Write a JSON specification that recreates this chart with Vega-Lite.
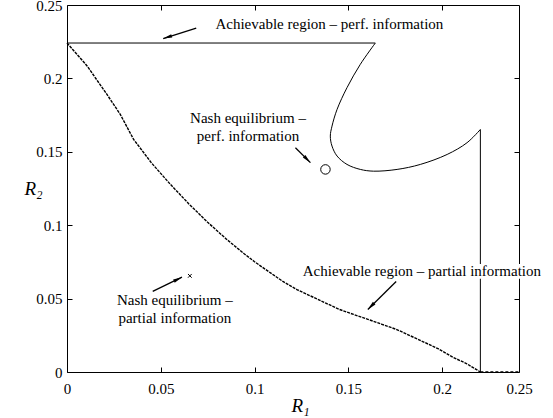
{
  "$schema": "https://vega.github.io/schema/vega-lite/v6.json",
  "width": 452,
  "height": 367,
  "autosize": {"type": "none"},
  "padding": {"left": 67, "top": 5, "right": 34, "bottom": 46},
  "background": "white",
  "config": {
    "view": {"stroke": null},
    "axis": {
      "grid": false,
      "domainColor": "black",
      "domainWidth": 1,
      "tickColor": "black",
      "tickSize": -5,
      "labelColor": "black",
      "labelFont": "Liberation Serif",
      "labelFontSize": 15,
      "labelFlush": false,
      "labelOverlap": false,
      "titleColor": "black",
      "titleFont": "Liberation Serif",
      "titleFontStyle": "italic",
      "titleFontWeight": "normal",
      "titleFontSize": 19
    }
  },
  "resolve": {"axis": {"x": "independent", "y": "independent"}},
  "datasets": {
    "perf": [
      {"part": "top", "ord": 1, "r1": 0, "r2": 0.2241},
      {"part": "top", "ord": 2, "r1": 0.1644, "r2": 0.2241},
      {"part": "curve", "ord": 1, "r1": 0.1644, "r2": 0.2241},
      {"part": "curve", "ord": 2, "r1": 0.1564, "r2": 0.2096},
      {"part": "curve", "ord": 3, "r1": 0.1493, "r2": 0.1937},
      {"part": "curve", "ord": 4, "r1": 0.1440, "r2": 0.1789},
      {"part": "curve", "ord": 5, "r1": 0.1413, "r2": 0.1675},
      {"part": "curve", "ord": 6, "r1": 0.1404, "r2": 0.1607},
      {"part": "curve", "ord": 7, "r1": 0.1413, "r2": 0.1539},
      {"part": "curve", "ord": 8, "r1": 0.1440, "r2": 0.1471},
      {"part": "curve", "ord": 9, "r1": 0.1493, "r2": 0.1414},
      {"part": "curve", "ord": 10, "r1": 0.1564, "r2": 0.1380},
      {"part": "curve", "ord": 11, "r1": 0.1635, "r2": 0.1368},
      {"part": "curve", "ord": 12, "r1": 0.1760, "r2": 0.1380},
      {"part": "curve", "ord": 13, "r1": 0.1884, "r2": 0.1414},
      {"part": "curve", "ord": 14, "r1": 0.2027, "r2": 0.1482},
      {"part": "curve", "ord": 15, "r1": 0.2133, "r2": 0.1562},
      {"part": "curve", "ord": 16, "r1": 0.2204, "r2": 0.1652},
      {"part": "side", "ord": 1, "r1": 0.2204, "r2": 0.1652},
      {"part": "side", "ord": 2, "r1": 0.2204, "r2": 0}
    ],
    "partial": [
      {"ord": 1, "r1": 0, "r2": 0.2241},
      {"ord": 2, "r1": 0.0107, "r2": 0.2085},
      {"ord": 3, "r1": 0.0213, "r2": 0.1891},
      {"ord": 4, "r1": 0.0284, "r2": 0.1755},
      {"ord": 5, "r1": 0.0355, "r2": 0.1585},
      {"ord": 6, "r1": 0.045, "r2": 0.1425},
      {"ord": 7, "r1": 0.055, "r2": 0.128},
      {"ord": 8, "r1": 0.065, "r2": 0.1145},
      {"ord": 9, "r1": 0.075, "r2": 0.102},
      {"ord": 10, "r1": 0.085, "r2": 0.0905},
      {"ord": 11, "r1": 0.0943, "r2": 0.0807},
      {"ord": 12, "r1": 0.1, "r2": 0.0751},
      {"ord": 13, "r1": 0.1075, "r2": 0.0684},
      {"ord": 14, "r1": 0.1151, "r2": 0.0617},
      {"ord": 15, "r1": 0.1226, "r2": 0.0561},
      {"ord": 16, "r1": 0.1302, "r2": 0.0516},
      {"ord": 17, "r1": 0.1377, "r2": 0.0471},
      {"ord": 18, "r1": 0.1453, "r2": 0.0426},
      {"ord": 19, "r1": 0.1528, "r2": 0.0392},
      {"ord": 20, "r1": 0.1604, "r2": 0.0359},
      {"ord": 21, "r1": 0.1679, "r2": 0.0325},
      {"ord": 22, "r1": 0.1755, "r2": 0.0291},
      {"ord": 23, "r1": 0.1830, "r2": 0.0247},
      {"ord": 24, "r1": 0.1906, "r2": 0.0202},
      {"ord": 25, "r1": 0.1981, "r2": 0.0157},
      {"ord": 26, "r1": 0.2057, "r2": 0.0101},
      {"ord": 27, "r1": 0.2132, "r2": 0.0056},
      {"ord": 28, "r1": 0.2204, "r2": 0}
    ],
    "base": [
      {"ord": 1, "r1": 0.2204, "r2": 0},
      {"ord": 2, "r1": 0.241, "r2": 0}
    ],
    "labels": [
      {"label": "Achievable region – perf. information", "r1": 0.1399, "r2": 0.2369},
      {"label": "Nash equilibrium –", "r1": 0.0965, "r2": 0.1733},
      {"label": "perf. information", "r1": 0.0965, "r2": 0.1607},
      {"label": "Achievable region – partial information", "r1": 0.1892, "r2": 0.0686},
      {"label": "Nash equilibrium –", "r1": 0.0575, "r2": 0.0493},
      {"label": "partial information", "r1": 0.0575, "r2": 0.037}
    ],
    "boxes": [
      {"x1": 0.1245, "x2": 0.2540, "y1": 0.0636, "y2": 0.0736}
    ],
    "nash_perf": [{"r1": 0.1378, "r2": 0.138}],
    "nash_partial": [{"r1": 0.0655, "r2": 0.0655}],
    "arrows": [
      {"id": "a1", "x1": 0.0689, "y1": 0.2342, "x2": 0.0513, "y2": 0.2271},
      {"id": "a2", "x1": 0.1218, "y1": 0.1528, "x2": 0.1298, "y2": 0.1426},
      {"id": "a3", "x1": 0.1755, "y1": 0.0617, "x2": 0.1604, "y2": 0.0426},
      {"id": "a4", "x1": 0.0457, "y1": 0.0549, "x2": 0.0613, "y2": 0.0646}
    ]
  },
  "layer": [
    {
      "data": {"name": "perf"},
      "mark": {"type": "line", "color": "black", "strokeWidth": 1, "interpolate": "catmull-rom"},
      "encoding": {
        "x": {
          "field": "r1", "type": "quantitative",
          "scale": {"domain": [0, 0.241], "nice": false, "zero": false},
          "axis": {
            "orient": "bottom",
            "values": [0, 0.05, 0.1, 0.15, 0.2, 0.241],
            "labelExpr": "datum.value > 0.23 ? '0.25' : format(datum.value, '.2~f')",
            "labelPadding": 14,
            "title": "R₁",
            "titleX": 233,
            "titleY": 39,
            "titleBaseline": "alphabetic",
            "titleAlign": "center"
          }
        },
        "y": {
          "field": "r2", "type": "quantitative",
          "scale": {"domain": [0, 0.25], "nice": false, "zero": false},
          "axis": {
            "orient": "left",
            "values": [0, 0.05, 0.1, 0.15, 0.2, 0.25],
            "format": ".2~f",
            "labelPadding": 10,
            "title": "R₂",
            "titleAngle": 0,
            "titleX": -34,
            "titleY": 183,
            "titleAlign": "center",
            "titleBaseline": "middle"
          }
        },
        "detail": {"field": "part"},
        "order": {"field": "ord", "type": "quantitative"}
      }
    },
    {
      "data": {"name": "partial"},
      "mark": {"type": "line", "color": "black", "strokeWidth": 1.4, "strokeDash": [3, 1]},
      "encoding": {
        "x": {"field": "r1", "type": "quantitative", "axis": null},
        "y": {"field": "r2", "type": "quantitative", "axis": null},
        "order": {"field": "ord", "type": "quantitative"}
      }
    },
    {
      "data": {"name": "base"},
      "mark": {"type": "line", "color": "black", "strokeWidth": 1.5, "strokeDash": [3, 2]},
      "encoding": {
        "x": {"field": "r1", "type": "quantitative", "axis": null},
        "y": {"field": "r2", "type": "quantitative", "axis": null},
        "order": {"field": "ord", "type": "quantitative"}
      }
    },
    {
      "data": {"name": "boxes"},
      "mark": {"type": "rect", "color": "white"},
      "encoding": {
        "x": {"field": "x1", "type": "quantitative", "axis": null},
        "x2": {"field": "x2"},
        "y": {"field": "y1", "type": "quantitative", "axis": null},
        "y2": {"field": "y2"}
      }
    },
    {
      "data": {"name": "labels"},
      "mark": {"type": "text", "font": "Liberation Serif", "fontSize": 15, "color": "black", "align": "center", "baseline": "middle"},
      "encoding": {
        "x": {"field": "r1", "type": "quantitative", "axis": null},
        "y": {"field": "r2", "type": "quantitative", "axis": null},
        "text": {"field": "label"}
      }
    },
    {
      "data": {"name": "nash_perf"},
      "mark": {"type": "point", "shape": "circle", "filled": false, "size": 90, "color": "black", "strokeWidth": 1, "opacity": 1},
      "encoding": {
        "x": {
          "field": "r1", "type": "quantitative",
          "axis": {"orient": "top", "values": [0.05, 0.1, 0.15, 0.2], "labels": false, "title": null}
        },
        "y": {
          "field": "r2", "type": "quantitative",
          "axis": {"orient": "right", "values": [0.05, 0.1, 0.15, 0.2], "labels": false, "title": null}
        }
      }
    },
    {
      "data": {"name": "nash_partial"},
      "mark": {"type": "point", "shape": "M-1,-1L1,1M1,-1L-1,1", "filled": false, "size": 14, "color": "black", "strokeWidth": 1, "opacity": 1},
      "encoding": {
        "x": {"field": "r1", "type": "quantitative", "axis": null},
        "y": {"field": "r2", "type": "quantitative", "axis": null}
      }
    },
    {
      "data": {"name": "arrows"},
      "mark": {"type": "rule", "color": "black", "strokeWidth": 1.3},
      "encoding": {
        "x": {"field": "x1", "type": "quantitative", "axis": null},
        "y": {"field": "y1", "type": "quantitative", "axis": null},
        "x2": {"field": "x2"},
        "y2": {"field": "y2"}
      }
    },
    {
      "data": {"name": "arrows"},
      "transform": [{"filter": "datum.id == 'a1'"}],
      "mark": {"type": "point", "shape": "M0,0L0.4,2L-0.4,2Z", "filled": true, "size": 80, "color": "black", "opacity": 1, "angle": 252},
      "encoding": {
        "x": {"field": "x2", "type": "quantitative", "axis": null},
        "y": {"field": "y2", "type": "quantitative", "axis": null}
      }
    },
    {
      "data": {"name": "arrows"},
      "transform": [{"filter": "datum.id == 'a2'"}],
      "mark": {"type": "point", "shape": "M0,0L0.4,2L-0.4,2Z", "filled": true, "size": 80, "color": "black", "opacity": 1, "angle": 135},
      "encoding": {
        "x": {"field": "x2", "type": "quantitative", "axis": null},
        "y": {"field": "y2", "type": "quantitative", "axis": null}
      }
    },
    {
      "data": {"name": "arrows"},
      "transform": [{"filter": "datum.id == 'a3'"}],
      "mark": {"type": "point", "shape": "M0,0L0.4,2L-0.4,2Z", "filled": true, "size": 80, "color": "black", "opacity": 1, "angle": 225},
      "encoding": {
        "x": {"field": "x2", "type": "quantitative", "axis": null},
        "y": {"field": "y2", "type": "quantitative", "axis": null}
      }
    },
    {
      "data": {"name": "arrows"},
      "transform": [{"filter": "datum.id == 'a4'"}],
      "mark": {"type": "point", "shape": "M0,0L0.4,2L-0.4,2Z", "filled": true, "size": 80, "color": "black", "opacity": 1, "angle": 64},
      "encoding": {
        "x": {"field": "x2", "type": "quantitative", "axis": null},
        "y": {"field": "y2", "type": "quantitative", "axis": null}
      }
    }
  ]
}
